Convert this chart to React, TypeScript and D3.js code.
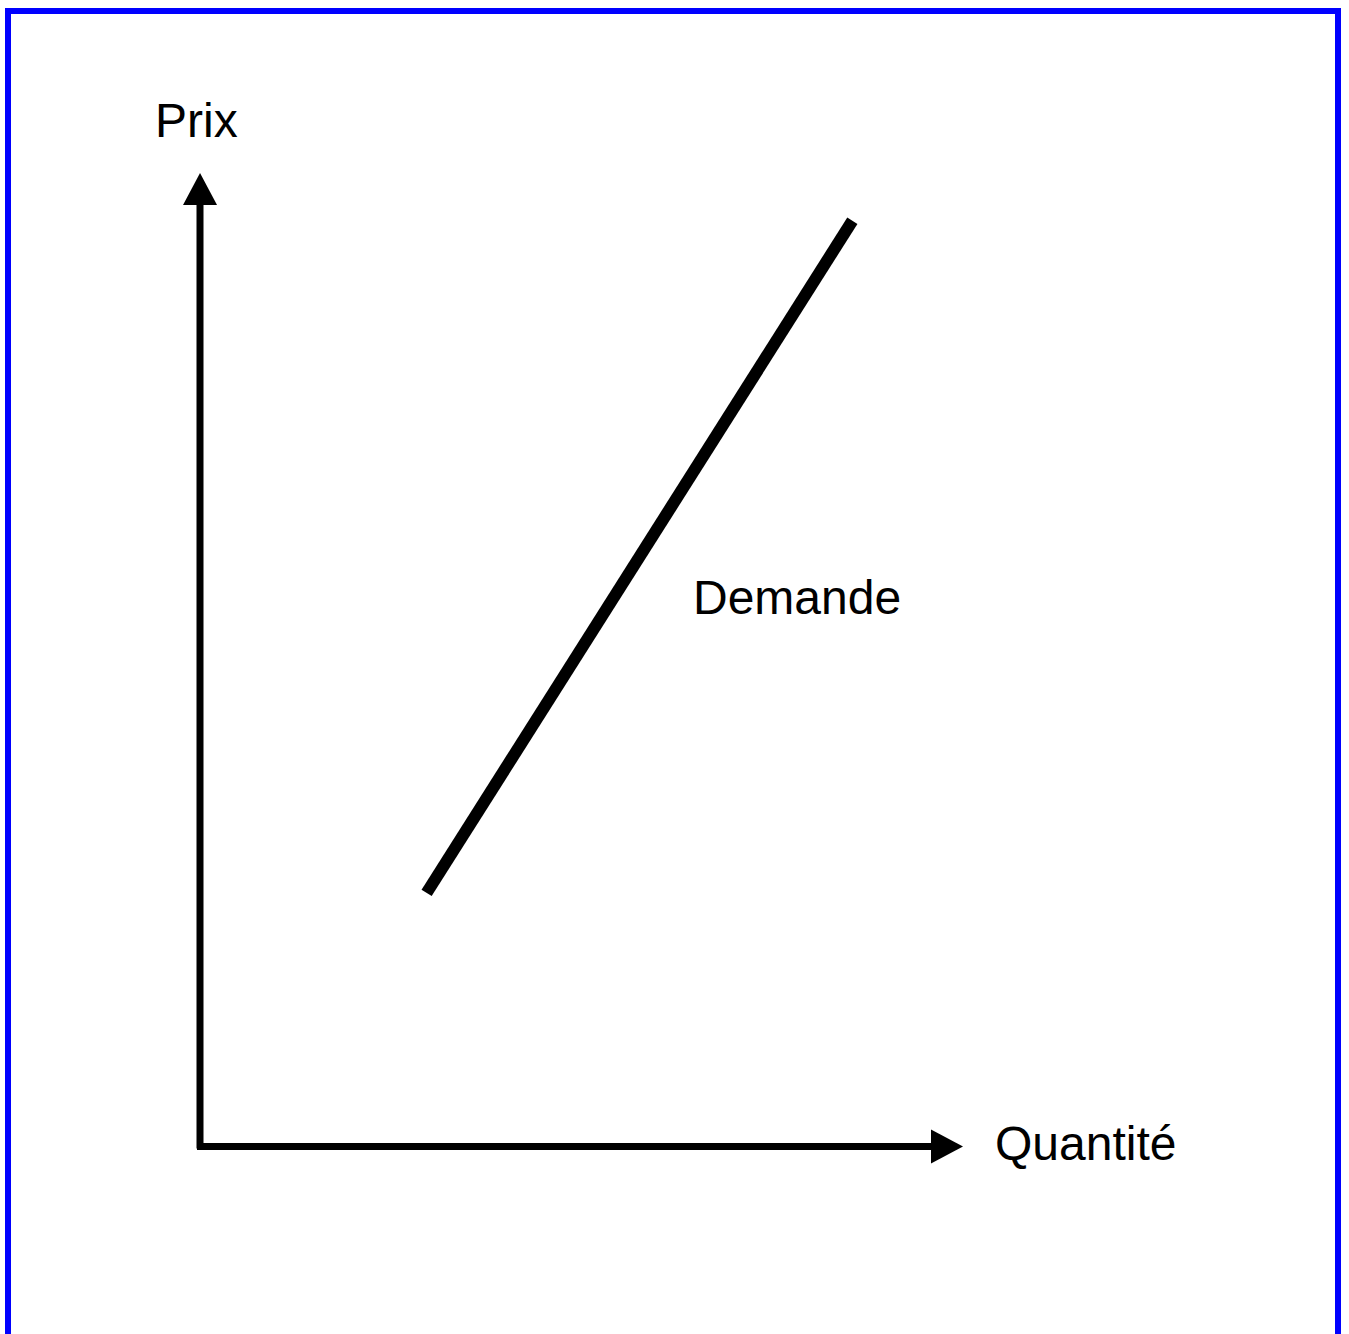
import React from "react";
import * as d3 from "d3";

// Axis extent (unit scale) and the demand line
const axisLabels = ["Prix", "Quantité"];
const curveLabel = ["Demande"];
const demandQ = [0.297, 0.855];
const demandP = [0.2605, 0.951];

const W = 1349;
const H = 1334;

export default function App() {
  const x = d3.scaleLinear().domain([0, 1]).range([200, 963]);
  const y = d3.scaleLinear().domain([0, 1]).range([1146.5, 173]);

  const demandPts: [number, number][] = demandQ.map((q, i) => [x(q), y(demandP[i])]);
  const line = d3.line<[number, number]>().x((d) => d[0]).y((d) => d[1]);

  const arrowLen = 32;
  const arrowHalf = 17;
  const x0 = x(0);
  const y0 = y(0);
  const xTip = x(1);
  const yTip = y(1);

  return (
    <svg
      width={W}
      height={H}
      style={{ position: "fixed", left: 0, top: 0, display: "block", background: "#fff" }}
      fontFamily="'Liberation Sans', Arial, sans-serif"
    >
      <rect x={0} y={0} width={W} height={H} fill="#fff" />
      <rect x={8} y={11} width={1330} height={1400} fill="none" stroke="#0000ff" strokeWidth={6} />

      {/* y axis */}
      <line x1={x0} y1={y0 + 2} x2={x0} y2={yTip + arrowLen} stroke="#000" strokeWidth={7} />
      <polygon
        points={`${x0},${yTip} ${x0 - arrowHalf},${yTip + arrowLen} ${x0 + arrowHalf},${yTip + arrowLen}`}
        fill="#000"
      />
      {/* x axis */}
      <line x1={x0 - 3} y1={y0} x2={xTip - arrowLen} y2={y0} stroke="#000" strokeWidth={7} />
      <polygon
        points={`${xTip},${y0} ${xTip - arrowLen},${y0 - arrowHalf} ${xTip - arrowLen},${y0 + arrowHalf}`}
        fill="#000"
      />

      {/* demand curve */}
      <path d={line(demandPts) || ""} fill="none" stroke="#000" strokeWidth={12} strokeLinecap="butt" />

      <text x={155} y={137} fontSize={48} fill="#000">{axisLabels[0]}</text>
      <text x={995} y={1160} fontSize={48} fill="#000">{axisLabels[1]}</text>
      <text x={693} y={614} fontSize={48} fill="#000">{curveLabel[0]}</text>
    </svg>
  );
}
